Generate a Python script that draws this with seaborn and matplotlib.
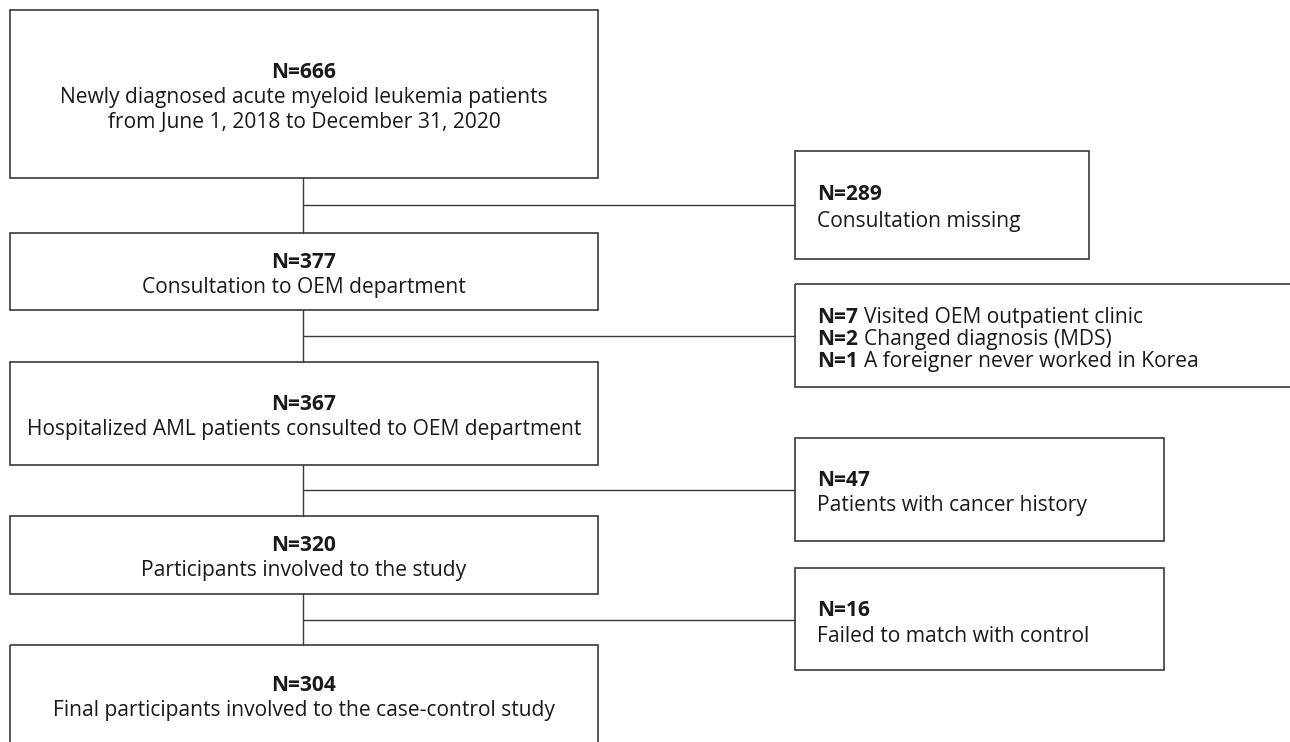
"""Flow diagram of participant selection."""

import matplotlib.pyplot as plt
from matplotlib.patches import Rectangle
import seaborn as sns

# main flow
main_n = [666, 377, 367, 320, 304]
main_desc = [
    "Newly diagnosed acute myeloid leukemia patients\nfrom June 1, 2018 to December 31, 2020",
    "Consultation to OEM department",
    "Hospitalized AML patients consulted to OEM department",
    "Participants involved to the study",
    "Final participants involved to the case-control study",
]

# exclusions between steps
excl_n = [[289], [7, 2, 1], [47], [16]]
excl_desc = [
    ["Consultation missing"],
    ["Visited OEM outpatient clinic", "Changed diagnosis (MDS)", "A foreigner never worked in Korea"],
    ["Patients with cancer history"],
    ["Failed to match with control"],
]

# layout (pixels, top-down)
main_boxes = [(10, 178), (233, 310), (362, 465), (516, 594), (645, 760)]
excl_boxes = [(151, 259, 1089), (284, 387, 1300), (438, 541, 1164), (568, 670, 1164)]
join_y = [205, 336, 490, 620]
MX0, MX1, CX, EX0 = 10, 598, 303, 795

sns.set_theme(style="white")
plt.rcParams["font.family"] = ["Open Sans", "DejaVu Sans"]
FS = 15.1
EDGE = "#3a3a3a"
TXT = "#1a1a1a"
LINE = 25

fig = plt.figure(figsize=(12.9, 7.42), dpi=100)
ax = fig.add_axes([0, 0, 1, 1])
ax.set_xlim(0, 1290)
ax.set_ylim(742, 0)
ax.axis("off")

for (y0, y1), n, desc in zip(main_boxes, main_n, main_desc):
    ax.add_patch(Rectangle((MX0, y0), MX1 - MX0, y1 - y0, fill=False, ec=EDGE, lw=1.2))
    lines = [f"N={n}"] + desc.split("\n")
    cy = (y0 + y1) / 2 + 3 if y1 <= 742 else 698
    first = cy - LINE * (len(lines) - 1) / 2
    for i, s in enumerate(lines):
        ax.text((MX0 + MX1) / 2, first + i * LINE, s, ha="center", va="center",
                fontsize=FS, fontweight="bold" if i == 0 else "normal", color=TXT)

# vertical connectors between main boxes
for (a0, a1), (b0, b1) in zip(main_boxes[:-1], main_boxes[1:]):
    ax.plot([CX, CX], [a1, b0], color=EDGE, lw=1.0)

fig.canvas.draw()
renderer = fig.canvas.get_renderer()
inv = ax.transData.inverted()

for jy, (y0, y1, x1), ns, ds in zip(join_y, excl_boxes, excl_n, excl_desc):
    ax.plot([CX, EX0], [jy, jy], color=EDGE, lw=1.0)
    ax.add_patch(Rectangle((EX0, y0), x1 - EX0, y1 - y0, fill=False, ec=EDGE, lw=1.2))
    tx = EX0 + 22
    if len(ns) == 1:
        ax.text(tx, jy - 10, f"N={ns[0]}", ha="left", va="center",
                fontsize=FS, fontweight="bold", color=TXT)
        ax.text(tx, jy + 16, ds[0], ha="left", va="center", fontsize=FS, color=TXT)
    else:
        for i, (n, d) in enumerate(zip(ns, ds)):
            ly = jy + (i - 1) * 22 + 9
            t = ax.text(tx, ly, f"N={n}", ha="left", va="baseline",
                        fontsize=FS, fontweight="bold", color=TXT)
            bb = t.get_window_extent(renderer)
            xr = inv.transform((bb.x1, bb.y0))[0]
            ax.text(xr + 6, ly, d, ha="left", va="baseline", fontsize=FS, color=TXT)

fig.savefig("out.png", dpi=100)
